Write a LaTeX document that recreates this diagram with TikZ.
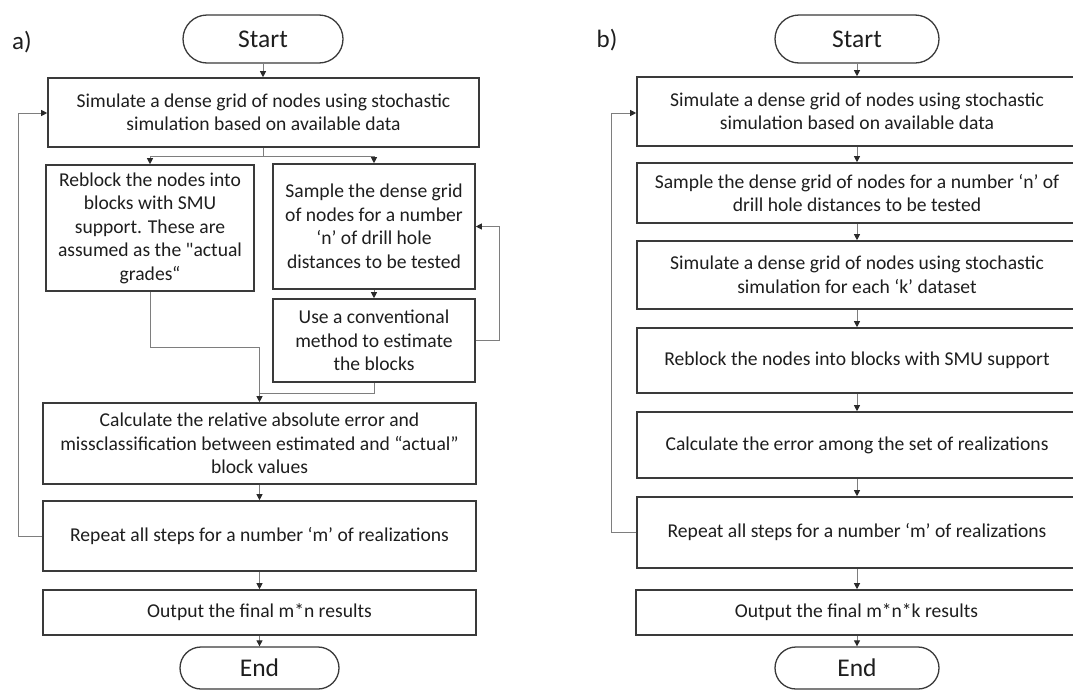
\documentclass[tikz,border=0pt]{standalone}
\usepackage{fontspec}
\newfontfamily\carl{Carlito}
\usetikzlibrary{arrows.meta}
\definecolor{boxc}{HTML}{3A3A3A}
\definecolor{txt}{HTML}{1E1E1E}
\definecolor{linec}{HTML}{7E7E7E}
\definecolor{arrc}{HTML}{2A2A2A}
\begin{document}
\begin{tikzpicture}[x=1pt,y=-1pt,
  box/.style={draw=boxc, line width=1.6pt, fill=white, inner sep=0pt, align=center,
    font=\carl\fontsize{19.6}{23.5}\selectfont, text=txt},
  term/.style={draw=boxc, line width=1.3pt, fill=white, inner sep=0pt,
    font=\carl\fontsize{25.5}{30}\selectfont, text=txt},
  lbl/.style={inner sep=0pt, font=\carl\fontsize{25}{28}\selectfont, text=txt},
  conn/.style={draw=linec, line width=1pt},
  arr/.style={conn, -{Triangle[length=6pt,width=6pt,color=arrc]}},
]
\useasboundingbox (0,0) rectangle (1073,691);
\clip (0,0) rectangle (1073,691);

% ---------------- panel a ----------------
\node[lbl] (la) at (22,42) {a)};
\node[term, minimum width=160pt, minimum height=48pt, rounded corners=24pt] (startA) at (263,39) {Start};
\node[box, minimum width=431pt, minimum height=69pt] (a1) at (263.5,112.5)
  {Simulate a dense grid of nodes using stochastic\\simulation based on available data};
\node[box, minimum width=208pt, minimum height=126pt] (aL) at (150,228)
  {Reblock the nodes into\\blocks with SMU\\support. These are\\assumed as the "actual\\grades“};
\node[box, minimum width=202pt, minimum height=125pt] (aR1) at (374,226.5)
  {Sample the dense grid\\of nodes for a number\\‘n’ of drill hole\\distances to be tested};
\node[box, minimum width=202pt, minimum height=83pt] (aR2) at (374,340.5)
  {Use a conventional\\method to estimate\\the blocks};
\node[box, minimum width=433pt, minimum height=81pt] (aCalc) at (259.5,443.5)
  {Calculate the relative absolute error and\\missclassification between estimated and “actual”\\block values};
\node[box, minimum width=433pt, minimum height=70pt] (aRep) at (259.5,536)
  {Repeat all steps for a number ‘m’ of realizations};
\node[box, minimum width=433pt, minimum height=45pt] (aOut) at (259.5,612.5)
  {Output the final m*n results};
\node[term, minimum width=159pt, minimum height=42pt, rounded corners=21pt] (endA) at (259.5,668) {End};

\draw[arr] (startA.south) -- (startA.south |- a1.north);
\draw[conn] (a1.south -| startA.south) -- ++(0,9) coordinate (splitA);
\draw[arr] (splitA) -| (aL.north);
\draw[arr] (splitA) -| (aR1.north);
\draw[arr] (aR1.south) -- (aR2.north);
\draw[conn] (aR2.east) -- ++(24,0) coordinate (loopR);
\draw[arr] (loopR) |- (aR1.east);
\coordinate (mergeA) at (259.5,347);
\draw[arr] (aL.south) |- (mergeA) -- (aCalc.north);
\draw[conn] (aR2.south) -- ++(0,11) coordinate (mergeB) -- (mergeB -| aCalc.north);
\draw[arr] (aCalc.south) -- (aRep.north);
\draw[arr] (aRep.south) -- (aOut.north);
\draw[arr] (aOut.south) -- (endA.north);
\draw[conn] (aRep.west) -- ++(-24,0) coordinate (loopA);
\draw[arr] (loopA) |- (a1.west |- 0,113);

% ---------------- panel b ----------------
\node[lbl] (lb) at (607,40) {b)};
\node[term, minimum width=164pt, minimum height=48pt, rounded corners=24pt] (startB) at (857,39) {Start};
\node[box, minimum width=440pt, minimum height=69pt] (b1) at (857,111.5)
  {Simulate a dense grid of nodes using stochastic\\simulation based on available data};
\node[box, minimum width=440pt, minimum height=60pt] (b2) at (857,193)
  {Sample the dense grid of nodes for a number ‘n’ of\\drill hole distances to be tested};
\node[box, minimum width=440pt, minimum height=68pt] (b3) at (857,275)
  {Simulate a dense grid of nodes using stochastic\\simulation for each ‘k’ dataset};
\node[box, minimum width=440pt, minimum height=65pt] (b4) at (857,360.5)
  {Reblock the nodes into blocks with SMU support};
\node[box, minimum width=440pt, minimum height=66pt] (b5) at (857,445)
  {Calculate the error among the set of realizations};
\node[box, minimum width=440pt, minimum height=71pt] (b6) at (857,532.5)
  {Repeat all steps for a number ‘m’ of realizations};
\node[box, minimum width=441pt, minimum height=45pt] (b7) at (856.5,612.5)
  {Output the final m*n*k results};
\node[term, minimum width=164pt, minimum height=42pt, rounded corners=21pt] (endB) at (857,668) {End};

\draw[arr] (startB.south) -- (b1.north);
\draw[arr] (b1.south) -- (b2.north);
\draw[arr] (b2.south) -- (b3.north);
\draw[arr] (b3.south) -- (b4.north);
\draw[arr] (b4.south) -- (b5.north);
\draw[arr] (b5.south) -- (b6.north);
\draw[arr] (b6.south) -- (b6.south |- b7.north);
\draw[arr] (b7.south -| endB.north) -- (endB.north);
\draw[conn] (b6.west) -- ++(-25,0) coordinate (loopB);
\draw[arr] (loopB) |- (b1.west |- 0,113);
\end{tikzpicture}
\end{document}
